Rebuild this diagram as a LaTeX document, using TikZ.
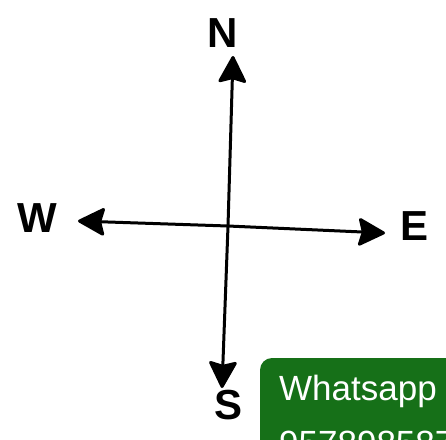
\documentclass[tikz,border=0pt]{standalone}
\usepackage{fontspec}
\setsansfont{Liberation Sans}
\usetikzlibrary{arrows.meta}
\definecolor{wagreen}{RGB}{22,112,24}
\tikzset{
  dirlabel/.style={font=\sffamily\bfseries\fontsize{42}{42}\selectfont, inner sep=0pt},
  pointer/.style={-{Stealth[length=29pt, width=30pt, inset=4pt, round]}, line width=3pt, draw=black},
  badge/.style={fill=wagreen, rounded corners=12pt},
  badgetext/.style={font=\sffamily\fontsize{35}{40}\selectfont, text=white, inner sep=0pt, anchor=base west}
}
\begin{document}
\begin{tikzpicture}[x=1pt, y=-1pt]
  \clip (0,0) rectangle (446,439);
  \fill[white] (0,0) rectangle (446,439);
  % compass
  \coordinate (O) at (228,226);
  \coordinate (tipN) at (233,56);
  \coordinate (tipS) at (222,388);
  \coordinate (tipW) at (78,221);
  \coordinate (tipE) at (385,233);
  \draw[pointer] (O) -- (tipN);
  \draw[pointer] (O) -- (tipS);
  \draw[pointer] (O) -- (tipW);
  \draw[pointer] (O) -- (tipE);
  \node[dirlabel] (n) at (223,33) {N};
  \node[dirlabel] (s) at (229,405) {S};
  \node[dirlabel] (w) at (37,218) {W};
  \node[dirlabel] (e) at (414,226) {E};
  % whatsapp badge
  \fill[badge] (260,358) rectangle (480,470);
  \node[badgetext] (wa) at (279,400) {Whatsapp};
  \node[badgetext] (num) at (279,455) {957898587};
\end{tikzpicture}
\end{document}
